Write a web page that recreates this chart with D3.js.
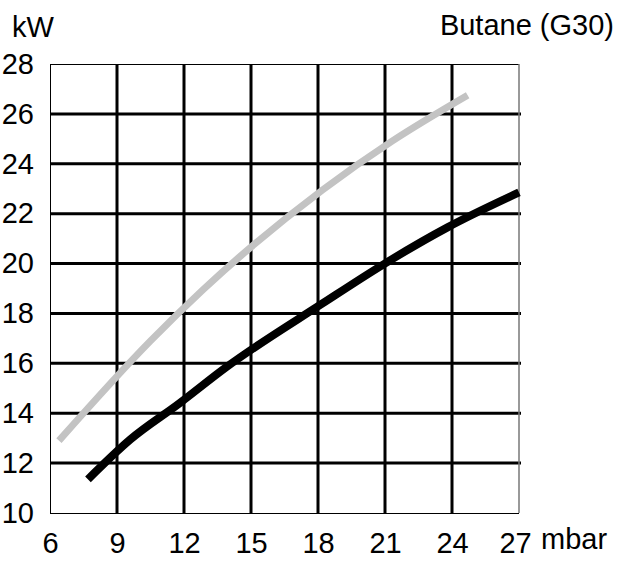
<!DOCTYPE html>
<html>
<head>
<meta charset="utf-8">
<script src="https://cdn.jsdelivr.net/npm/d3@7"></script>
<style>
  body { margin: 0; background: #fff; }
  svg { display: block; font-family: "Liberation Sans", Arial, sans-serif; }
</style>
</head>
<body>
<script>
'use strict';

// pressure (mbar) -> power (kW)
const grayPressure = [6.4, 10.5, 12.85, 18.2, 21.3, 24.7];
const grayPower = [12.9, 16.9, 18.95, 22.95, 24.9, 26.75];
const blackPressure = [7.7, 9.6, 11.8, 13.9, 18.2, 20.9, 23.8, 27];
const blackPower = [11.35, 12.95, 14.4, 15.85, 18.4, 19.95, 21.45, 22.85];

const xTicks = [6, 9, 12, 15, 18, 21, 24, 27];
const yTicks = [10, 12, 14, 16, 18, 20, 22, 24, 26, 28];

const W = 628, H = 561;
const FONT = 29;

let svg = d3.select('body').append('svg')
  .attr('width', W)
  .attr('height', H);

let x = d3.scaleLinear().domain([6, 27]).range([50, 519]);
let y = d3.scaleLinear().domain([10, 28]).range([513, 64]);

// grid, thick lines inside the frame
let grid = svg.append('g').attr('stroke', '#000').attr('stroke-width', 3);
grid.selectAll('.vgrid')
  .data(xTicks.slice(1, -1))
  .enter().append('line')
    .attr('x1', function(d) { return x(d); })
    .attr('x2', function(d) { return x(d); })
    .attr('y1', y(28))
    .attr('y2', y(10) + 1);
grid.selectAll('.hgrid')
  .data(yTicks.slice(1, -1))
  .enter().append('line')
    .attr('x1', x(6))
    .attr('x2', x(27) + 2)
    .attr('y1', function(d) { return y(d); })
    .attr('y2', function(d) { return y(d); });

// thin frame
let frame = svg.append('g').attr('fill', 'none').attr('stroke-width', 1);
frame.append('line').attr('stroke', '#000')
  .attr('x1', x(6) + 0.5).attr('x2', x(6) + 0.5).attr('y1', y(28)).attr('y2', y(10));
frame.append('line').attr('stroke', '#000')
  .attr('x1', x(6)).attr('x2', x(27)).attr('y1', y(28) + 0.5).attr('y2', y(28) + 0.5);
frame.append('line').attr('stroke', '#000')
  .attr('x1', x(6)).attr('x2', x(27)).attr('y1', y(10) + 0.5).attr('y2', y(10) + 0.5);
frame.append('line').attr('stroke', '#777').attr('stroke-width', 1.5)
  .attr('x1', x(27)).attr('x2', x(27)).attr('y1', y(28)).attr('y2', y(10));

// curves
let line = d3.line()
  .curve(d3.curveMonotoneX)
  .x(function(d) { return x(d[0]); })
  .y(function(d) { return y(d[1]); });

svg.append('path')
  .datum(d3.zip(grayPressure, grayPower))
  .attr('d', line)
  .attr('fill', 'none')
  .attr('stroke', '#c3c3c3')
  .attr('stroke-width', 7)
  .attr('stroke-linecap', 'butt');

svg.append('path')
  .datum(d3.zip(blackPressure, blackPower))
  .attr('d', line)
  .attr('fill', 'none')
  .attr('stroke', '#000')
  .attr('stroke-width', 8)
  .attr('stroke-linecap', 'butt');

// axes
let yAxis = svg.append('g')
  .attr('transform', 'translate(' + x(6) + ',0)')
  .call(d3.axisLeft(y).tickValues(yTicks).tickSize(0).tickPadding(16));
yAxis.select('.domain').remove();
yAxis.selectAll('text')
  .attr('font-size', FONT)
  .attr('font-family', '"Liberation Sans", Arial, sans-serif')
  .attr('fill', '#000');

let xAxis = svg.append('g')
  .attr('transform', 'translate(0,' + y(10) + ')')
  .call(d3.axisBottom(x).tickValues(xTicks).tickSize(0).tickPadding(19));
xAxis.select('.domain').remove();
xAxis.selectAll('text')
  .attr('font-size', FONT)
  .attr('font-family', '"Liberation Sans", Arial, sans-serif')
  .attr('fill', '#000')
  .attr('dx', function(d) { return d === 27 ? -4 : 0; });

// unit labels and title
svg.append('text')
  .attr('x', 12).attr('y', 37)
  .attr('font-size', FONT)
  .text('kW');

svg.append('text')
  .attr('x', 541).attr('y', 549)
  .attr('font-size', FONT)
  .text('mbar');

svg.append('text')
  .attr('x', 614).attr('y', 35)
  .attr('text-anchor', 'end')
  .attr('font-size', FONT)
  .text('Butane (G30)');
</script>
</body>
</html>
